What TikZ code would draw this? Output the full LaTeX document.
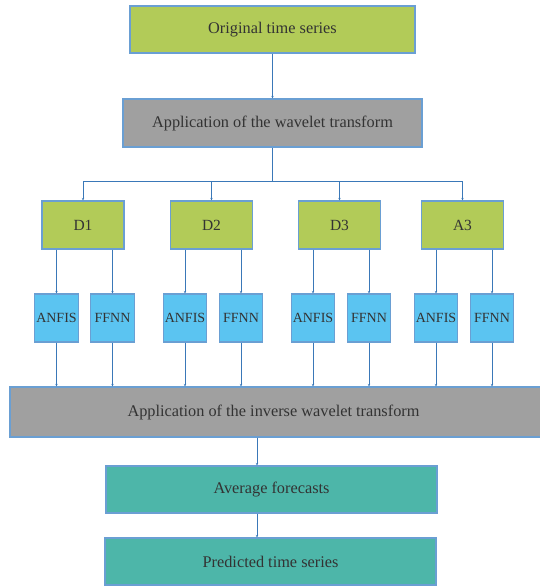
\documentclass[tikz,border=0pt]{standalone}
\usepackage{fontspec}
\setmainfont{Liberation Serif}
\usetikzlibrary{arrows.meta}
\definecolor{boxgreen}{HTML}{B2CB58}
\definecolor{boxgrey}{HTML}{A0A0A0}
\definecolor{boxblue}{HTML}{5BC4F1}
\definecolor{boxteal}{HTML}{4DB6A9}
\definecolor{edgeblue}{HTML}{6A9FD3}
\definecolor{lineblue}{HTML}{3A78B8}
\definecolor{txt}{HTML}{333333}
\begin{document}
\begin{tikzpicture}[x=1pt,y=-1pt,
		box/.style={draw=edgeblue, line width=1.1pt, text=txt, inner sep=0pt, minimum height=48pt, font=\fontsize{16.3}{19}\selectfont},
		model/.style={box, fill=boxblue, minimum width=43.5pt, font=\fontsize{14}{16}\selectfont},
		link/.style={lineblue, line width=0.9pt, -{Stealth[length=2.5pt,width=2.5pt]}}]
		\useasboundingbox (0,0) rectangle (540,586);
		
		% Draw main boxes
		\node[box, fill=boxgreen, minimum width=285pt, minimum height=47pt] (orig) at (272.5,29.5) {Original time series};
		\node[box, fill=boxgrey, minimum width=299pt] (wav) at (272.5,123) {Application of the wavelet transform};
		\node[box, fill=boxgrey, minimum width=535pt, minimum height=50pt] (inv) at (277.5,412) {\hspace*{-8pt}Application of the inverse wavelet transform};
		\node[box, fill=boxteal, minimum width=331pt, minimum height=47pt] (avg) at (271.5,489.5) {Average forecasts};
		\node[box, fill=boxteal, minimum width=331pt, minimum height=47pt] (pred) at (270.5,561.5) {Predicted time series};
		
		% Define points
		\coordinate (bus) at (272.5,181);
		\coordinate (mid) at (257,450);
		
		% Draw components and their models
		\foreach \name/\x in {D1/83, D2/211.5, D3/339.5, A3/462.5} {
			\node[box, fill=boxgreen, minimum width=82pt, font=\fontsize{15.5}{18}\selectfont] (\name) at (\x,225) {\name};
			\node[model] (\name a) at (\x-26.5,318) {ANFIS};
			\node[model] (\name f) at (\x+29.5,318) {FFNN};
			\draw[link] (bus) -| (\name.north);
			\draw[link] (\name.south -| \name a) -- (\name a.north);
			\draw[link] (\name.south -| \name f) -- (\name f.north);
			\draw[link] (\name a.south) -- (\name a.south |- inv.north);
			\draw[link] (\name f.south) -- (\name f.south |- inv.north);
		}
		
		% Draw connectors
		\draw[link] (orig) -- (wav);
		\draw[lineblue, line width=0.9pt] (wav) -- (bus);
		\draw[link] (inv.south -| mid) -- (avg.north -| mid);
		\draw[link] (avg.south -| mid) -- (pred.north -| mid);
		
	\end{tikzpicture}
\end{document}
